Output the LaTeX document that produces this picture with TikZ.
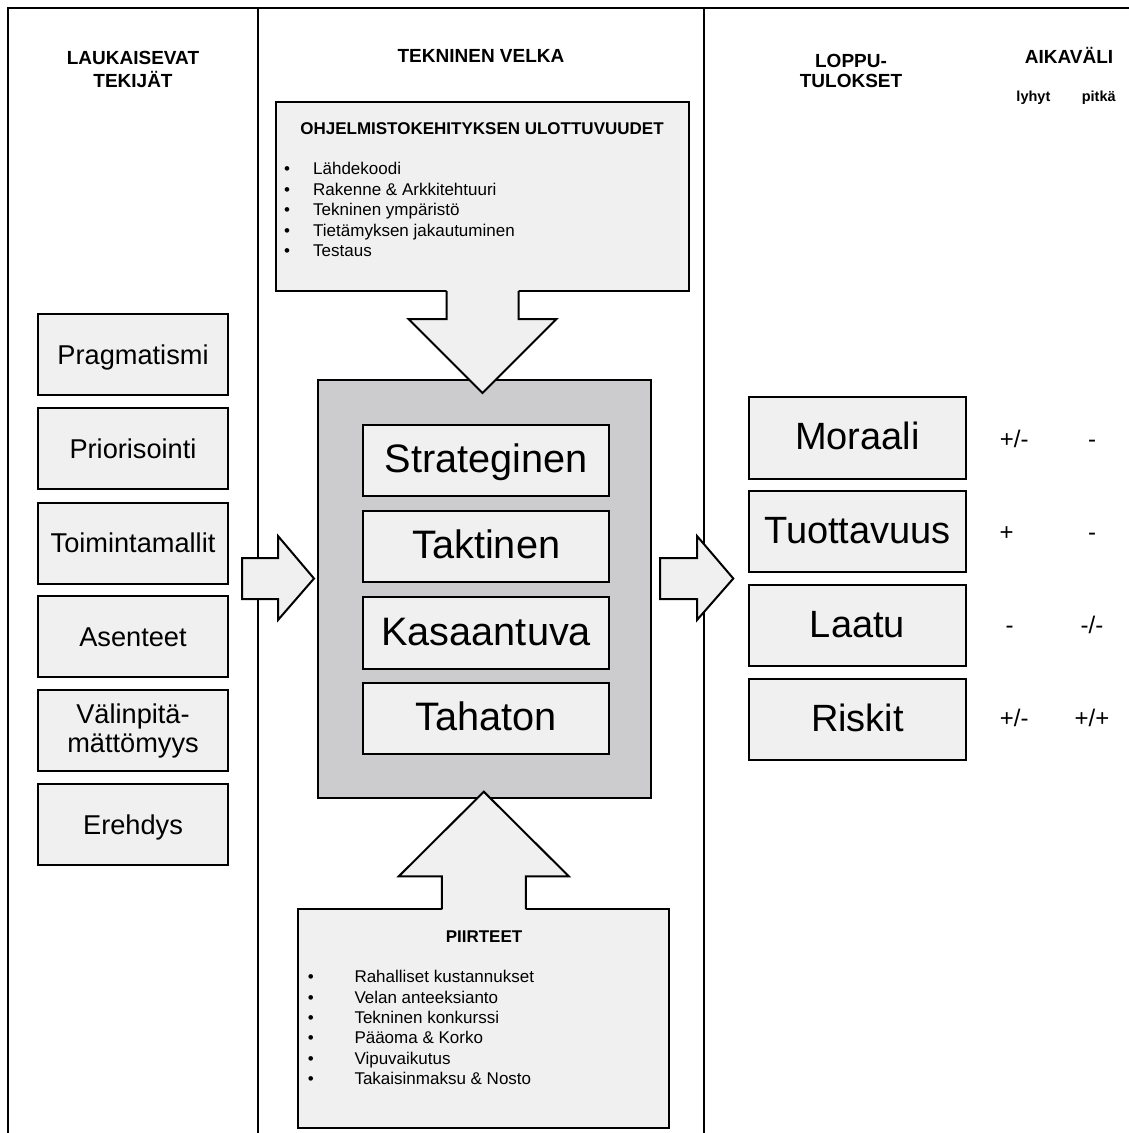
\documentclass[tikz,border=0pt]{standalone}
\usepackage{fontspec}
\setmainfont{Liberation Sans}
\usetikzlibrary{calc}
\definecolor{boxfill}{RGB}{240,240,240}
\definecolor{corefill}{RGB}{204,204,206}
\begin{document}
\begin{tikzpicture}[x=1pt,y=-1pt,
  frame/.style={line width=2pt, draw=black},
  boxbase/.style={draw=black, line width=2pt, fill=boxfill, inner sep=0pt, outer sep=0pt},
  leftbox/.style={boxbase, minimum width=189.4pt, minimum height=81pt,
    font=\fontsize{27.2}{29}\selectfont, align=center},
  lefttxt/.style={text height=19.5pt, text depth=0pt},
  rightbox/.style={boxbase, minimum width=216.4pt, minimum height=81.4pt,
    font=\fontsize{38}{44}\selectfont, text height=27.2pt, text depth=3.8pt},
  corebox/.style={boxbase, minimum width=245.7pt, minimum height=71.5pt,
    font=\fontsize{39.7}{44}\selectfont, text height=28.4pt, text depth=4pt},
  headtwo/.style={font=\fontsize{19}{22.6}\selectfont\bfseries, align=center, inner sep=0pt},
  headone/.style={font=\fontsize{19}{22}\selectfont\bfseries, inner sep=0pt, text height=13.6pt, text depth=0pt},
  subhead/.style={font=\fontsize{14.5}{16}\selectfont\bfseries, inner sep=0pt, text height=10.4pt, text depth=0pt},
  boxhead/.style={font=\fontsize{17}{20}\selectfont\bfseries, inner sep=0pt, text height=12.2pt, text depth=0pt},
  item/.style={font=\fontsize{17}{20}\selectfont, inner sep=0pt, text height=12.2pt, text depth=0pt, anchor=west},
  val/.style={font=\fontsize{24}{28}\selectfont, inner sep=0pt, text height=17.2pt, text depth=0pt},
  arrowline/.style={draw=black, line width=2pt, line join=miter},
  barrow/.style={draw=black, fill=boxfill, line width=2pt, line join=miter}
]
\useasboundingbox (0,0) rectangle (1129,1133);

% frame
\draw[frame] (1129,8) -- (8,8) -- (8,1133);
\draw[frame] (258,8) -- (258,1133);
\draw[frame] (704,8) -- (704,1133);

% column headers
\node[headtwo] (hL) at (133,69.6) {LAUKAISEVAT\\TEKIJÄT};
\node[headone] (hT) at (481,56) {TEKNINEN VELKA};
\node[headtwo, font=\fontsize{19}{20}\selectfont\bfseries] (hR) at (851,71.3) {LOPPU-\\TULOKSET};
\node[headone] (hA) at (1069,56.7) {AIKAVÄLI};
\node[subhead] (hS) at (1033.4,96) {lyhyt};
\node[subhead] (hP) at (1098.7,96) {pitkä};

% left column
\node[leftbox, lefttxt] (l1) at (133,354.7) {Pragmatismi};
\node[leftbox, lefttxt] (l2) at (133,448.7) {Priorisointi};
\node[leftbox, lefttxt] (l3) at (133,543) {Toimintamallit};
\node[leftbox, lefttxt] (l4) at (133,636.7) {Asenteet};
\node[leftbox] (l5) at (133,730.5) {Välinpitä-\\mättömyys};
\node[leftbox, lefttxt] (l6) at (133,824.5) {Erehdys};

% top box
\node[boxbase, minimum width=413pt, minimum height=189pt] (top) at (482.5,196.5) {};
\node[boxhead] (topH) at (482,128) {OHJELMISTOKEHITYKSEN ULOTTUVUUDET};
\foreach \t [count=\i] in {Lähdekoodi, Rakenne \& Arkkitehtuuri, Tekninen ympäristö, Tietämyksen jakautuminen, Testaus}
  \node[item] (topI\i) at (284,{168.3+20.6*(\i-1)}) {\makebox[29pt][l]{•}\t};

% bottom box
\node[boxbase, minimum width=371pt, minimum height=219pt] (bot) at (483.8,1018.8) {};
\node[boxhead] (botH) at (484,936) {PIIRTEET};
\foreach \t [count=\i] in {Rahalliset kustannukset, Velan anteeksianto, Tekninen konkurssi, Pääoma \& Korko, Vipuvaikutus, Takaisinmaksu \& Nosto}
  \node[item] (botI\i) at (307.7,{976.7+20.32*(\i-1)}) {\makebox[46.6pt][l]{•}\t};

% core
\node[boxbase, fill=corefill, minimum width=332.4pt, minimum height=418pt] (core) at (484.5,589) {};
\node[corebox] (c1) at (486.2,460.5) {Strateginen};
\node[corebox] (c2) at (486.2,546.3) {Taktinen};
\node[corebox] (c3) at (486.2,633) {Kasaantuva};
\node[corebox] (c4) at (486.2,718.5) {Tahaton};

% down arrow (top box -> core)
\fill[boxfill] ($(top.south)+(-36,-4)$) -- ($(top.south)+(-36,28)$) -- ($(top.south)+(-74,28)$)
  -- ($(top.south |- core.north)+(0,13)$) -- ($(top.south)+(74,28)$) -- ($(top.south)+(36,28)$)
  -- ($(top.south)+(36,-4)$) -- cycle;
\draw[arrowline] ($(top.south)+(-36,0)$) -- ($(top.south)+(-36,28)$) -- ($(top.south)+(-74,28)$)
  -- ($(top.south |- core.north)+(0,13)$) -- ($(top.south)+(74,28)$) -- ($(top.south)+(36,28)$)
  -- ($(top.south)+(36,0)$);

% up arrow (bottom box -> core)
\fill[boxfill] ($(bot.north)+(-42,4)$) -- ($(bot.north)+(-42,-33)$) -- ($(bot.north)+(-85,-33)$)
  -- ($(bot.north |- core.south)+(0,-6.3)$) -- ($(bot.north)+(85,-33)$) -- ($(bot.north)+(42,-33)$)
  -- ($(bot.north)+(42,4)$) -- cycle;
\draw[arrowline] ($(bot.north)+(-42,0)$) -- ($(bot.north)+(-42,-33)$) -- ($(bot.north)+(-85,-33)$)
  -- ($(bot.north |- core.south)+(0,-6.3)$) -- ($(bot.north)+(85,-33)$) -- ($(bot.north)+(42,-33)$)
  -- ($(bot.north)+(42,0)$);

% left arrow (triggers -> core)
\coordinate (lTip) at (314,578.5);
\draw[barrow] (242,558) -- (278,558) -- (278,536) -- (lTip) -- (278,620) -- (278,599) -- (242,599) -- cycle;

% right arrow (core -> outcomes)
\coordinate (rTip) at (733.3,578.5);
\draw[barrow] (660,558) -- (697,558) -- (697,536) -- (rTip) -- (697,620) -- (697,599) -- (660,599) -- cycle;

% right column
\node[rightbox] (r1) at (857.5,438) {Moraali};
\node[rightbox] (r2) at (857.5,531.7) {Tuottavuus};
\node[rightbox] (r3) at (857.5,625.5) {Laatu};
\node[rightbox] (r4) at (857.5,719.3) {Riskit};

% values
\node[val] (v1s) at (1014.3,438.5) {+/-};
\node[val] (v1l) at (1092,438.5) {-};
\node[val] (v2s) at (1006.7,531.7) {+};
\node[val] (v2l) at (1092,531.7) {-};
\node[val] (v3s) at (1009.5,625) {-};
\node[val] (v3l) at (1092,625) {-/-};
\node[val] (v4s) at (1014.3,718.3) {+/-};
\node[val] (v4l) at (1092,718.3) {+/+};
\end{tikzpicture}
\end{document}
